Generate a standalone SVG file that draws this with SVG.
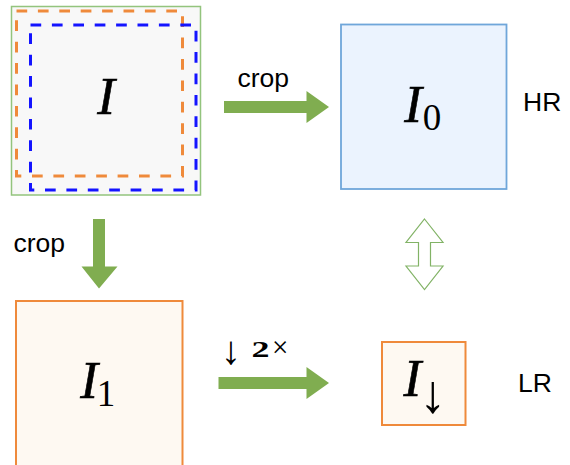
<svg xmlns="http://www.w3.org/2000/svg" width="570" height="465" viewBox="0 0 570 465">
<style>
.lbl{font-family:"Liberation Sans",Arial,sans-serif;font-size:26.5px;fill:#000}
.math{font-family:"Liberation Serif","Times New Roman",serif;fill:#000}
.it{font-style:italic;font-size:53px;stroke:#000;stroke-width:0.6}
.sub{font-style:normal;font-size:37px;stroke:none}
.arrow{fill:#80ad50;stroke:none}
</style>
<rect width="570" height="465" fill="#ffffff"/>
<g id="connectors">
  <polygon class="arrow" points="224,101 306.5,101 306.5,91 329,107 306.5,123 306.5,113 224,113"/>
  <polygon class="arrow" points="93,219 105,219 105,266.5 117.5,266.5 99,288.5 81.5,266.5 93,266.5"/>
  <polygon class="arrow" points="218.5,377 306.5,377 306.5,367 329,383 306.5,399 306.5,389 218.5,389"/>
  <polygon points="424.5,219 443,242.5 430.5,242.5 430.5,266 443,266 424.5,289.5 406,266 418.5,266 418.5,242.5 406,242.5" fill="#ffffff" stroke="#82b366" stroke-width="1.2"/>
</g>
<g id="node-I">
  <rect x="11.5" y="6.5" width="189" height="188.5" fill="#f8f8f8" stroke="#93c47d" stroke-width="1.5"/>
  <rect x="16.5" y="11" width="166" height="165" fill="none" stroke="#ef8a3b" stroke-width="3" stroke-dasharray="10.7 10.7"/>
  <rect x="30.5" y="25" width="165.5" height="165" fill="none" stroke="#1414ff" stroke-width="3" stroke-dasharray="10.7 10.7"/>
  <text class="math it" x="106" y="114" text-anchor="middle">I</text>
</g>
<g id="node-I0">
  <rect x="341" y="24.5" width="165.5" height="164.5" fill="#ebf3fe" stroke="#6fa6da" stroke-width="1.8"/>
  <text class="math"><tspan class="it" x="413" y="122" text-anchor="middle">I</tspan><tspan class="sub" x="432" y="130" text-anchor="middle">0</tspan></text>
</g>
<g id="node-I1">
  <rect x="16" y="301" width="166.5" height="170" fill="#fef9f2" stroke="#ef8a3b" stroke-width="2"/>
  <text class="math"><tspan class="it" x="89" y="398" text-anchor="middle">I</tspan><tspan class="sub" x="106" y="406" text-anchor="middle">1</tspan></text>
</g>
<g id="node-Idown">
  <rect x="382" y="342" width="83.5" height="83" fill="#fef9f2" stroke="#ef8a3b" stroke-width="2"/>
  <text class="math"><tspan class="it" x="403.5" y="396">I</tspan><tspan class="sub" x="433" y="412" text-anchor="middle" style="font-size:54px">↓</tspan></text>
</g>
<g id="labels">
  <text class="lbl" x="237.5" y="86.5">crop</text>
  <text class="lbl" x="13.5" y="251.5">crop</text>
  <text class="lbl" x="523" y="111">HR</text>
  <text class="lbl" x="518" y="391.5">LR</text>
  <text class="math"><tspan x="231" y="364" text-anchor="middle" style="font-size:40px">↓</tspan><tspan x="251.5" y="357" style="font-size:24px;font-weight:bold" textLength="18" lengthAdjust="spacingAndGlyphs">2</tspan><tspan x="272" y="357" style="font-size:29px">×</tspan></text>
</g>
</svg>
